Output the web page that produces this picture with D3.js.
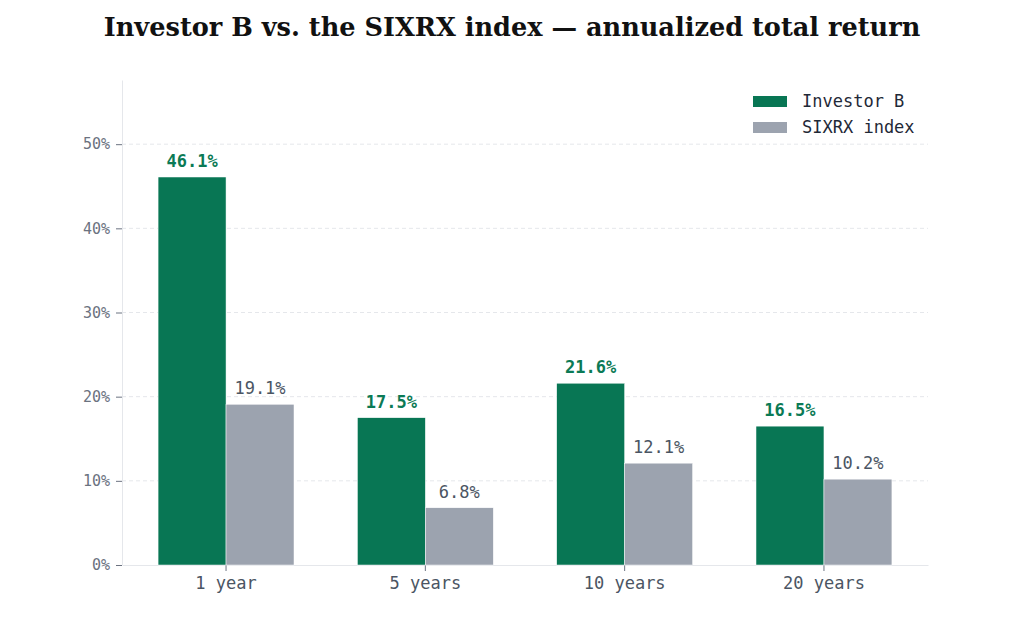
<!DOCTYPE html>
<html>
<head>
<meta charset="utf-8">
<script src="https://cdn.jsdelivr.net/npm/d3@7"></script>
<style>
  body { margin: 0; background: #fff; }
  svg { display: block; }
</style>
</head>
<body>
<div id="chart"></div>
<script>
// chart data
const periods = ["1 year", "5 years", "10 years", "20 years"];
const seriesNames = ["Investor B", "SIXRX index"];
const investorB = [46.1, 17.5, 21.6, 16.5];
const sixrx = [19.1, 6.8, 12.1, 10.2];
const yTicks = [0, 10, 20, 30, 40, 50];

const width = 1024, height = 629;
const margin = { top: 80, right: 96, bottom: 64, left: 122 };
const colors = ["#087654", "#9ca3af"];
const labelColors = ["#0b7a55", "#4b5563"];
const mono = "'DejaVu Sans Mono', 'Liberation Mono', monospace";

const svg = d3.select("#chart").append("svg")
    .attr("width", width)
    .attr("height", height);

svg.append("text")
    .attr("x", width / 2)
    .attr("y", 36)
    .attr("text-anchor", "middle")
    .style("font-family", "'DejaVu Serif', 'Liberation Serif', serif")
    .style("font-weight", "bold")
    .style("font-size", "25.6px")
    .style("fill", "#111")
    .text("Investor B vs. the SIXRX index \u2014 annualized total return");

const g = svg.append("g")
    .attr("transform", "translate(" + margin.left + "," + margin.top + ")");

const innerW = width - margin.left - margin.right;
const innerH = height - margin.top - margin.bottom;

const x0 = d3.scaleBand()
    .domain(periods)
    .range([0, innerW])
    .paddingInner(0.318)
    .paddingOuter(0.181);

const x1 = d3.scaleBand()
    .domain(seriesNames)
    .range([0, x0.bandwidth()]);

const y = d3.scaleLinear()
    .domain([0, d3.max(investorB) * 1.25])
    .range([innerH, 0]);

// gridlines
g.append("g")
    .selectAll("line")
    .data(yTicks.filter(d => d > 0))
    .join("line")
    .attr("x1", 0)
    .attr("x2", innerW)
    .attr("y1", d => y(d))
    .attr("y2", d => y(d))
    .attr("stroke", "#e5e7eb")
    .attr("stroke-dasharray", "4,3");

// y axis
const yAxis = g.append("g")
    .call(d3.axisLeft(y).tickValues(yTicks).tickFormat(d => d + "%").tickSize(6).tickPadding(6));
yAxis.select(".domain").attr("stroke", "#e5e7eb").attr("d", "M0.5," + innerH + "V0.5");
yAxis.selectAll(".tick line").attr("stroke", "#6b7280");
yAxis.selectAll(".tick text")
    .style("font-family", mono)
    .style("font-size", "15px")
    .style("fill", "#6b7280");

// x axis
const xAxis = g.append("g")
    .attr("transform", "translate(0," + innerH + ")")
    .call(d3.axisBottom(x0).tickSize(6).tickPadding(6).tickSizeOuter(0));
xAxis.select(".domain").attr("stroke", "#e5e7eb");
xAxis.selectAll(".tick line").attr("stroke", "#6b7280");
xAxis.selectAll(".tick text")
    .style("font-family", mono)
    .style("font-size", "17px")
    .style("fill", "#4b5563");

const rows = periods.map((p, i) => ({ period: p, values: [investorB[i], sixrx[i]] }));

const groups = g.append("g")
    .selectAll("g")
    .data(rows)
    .join("g")
    .attr("transform", d => "translate(" + x0(d.period) + ",0)");

groups.selectAll("rect")
    .data(d => d.values.map((v, j) => ({ key: seriesNames[j], value: v, j: j })))
    .join("rect")
    .attr("x", d => x1(d.key))
    .attr("y", d => y(d.value))
    .attr("width", x1.bandwidth())
    .attr("height", d => innerH - y(d.value))
    .attr("fill", d => colors[d.j])
    .attr("stroke", "#fff")
    .attr("stroke-width", 0.5);

groups.selectAll("text.val")
    .data(d => d.values.map((v, j) => ({ key: seriesNames[j], value: v, j: j })))
    .join("text")
    .attr("class", "val")
    .attr("x", d => x1(d.key) + x1.bandwidth() / 2)
    .attr("y", d => y(d.value) - 10)
    .attr("text-anchor", "middle")
    .style("font-family", mono)
    .style("font-size", "17px")
    .style("font-weight", d => d.j === 0 ? "bold" : "normal")
    .style("fill", d => labelColors[d.j])
    .text(d => d.value.toFixed(1) + "%");

// legend
const legend = svg.append("g")
    .attr("transform", "translate(753,96)");
seriesNames.forEach((name, i) => {
    const row = legend.append("g").attr("transform", "translate(0," + (i * 26) + ")");
    row.append("rect")
        .attr("width", 34)
        .attr("height", 11)
        .attr("fill", colors[i]);
    row.append("text")
        .attr("x", 49)
        .attr("y", 11)
        .style("font-family", mono)
        .style("font-size", "17px")
        .style("fill", "#1f2937")
        .text(name);
});
</script>
</body>
</html>
